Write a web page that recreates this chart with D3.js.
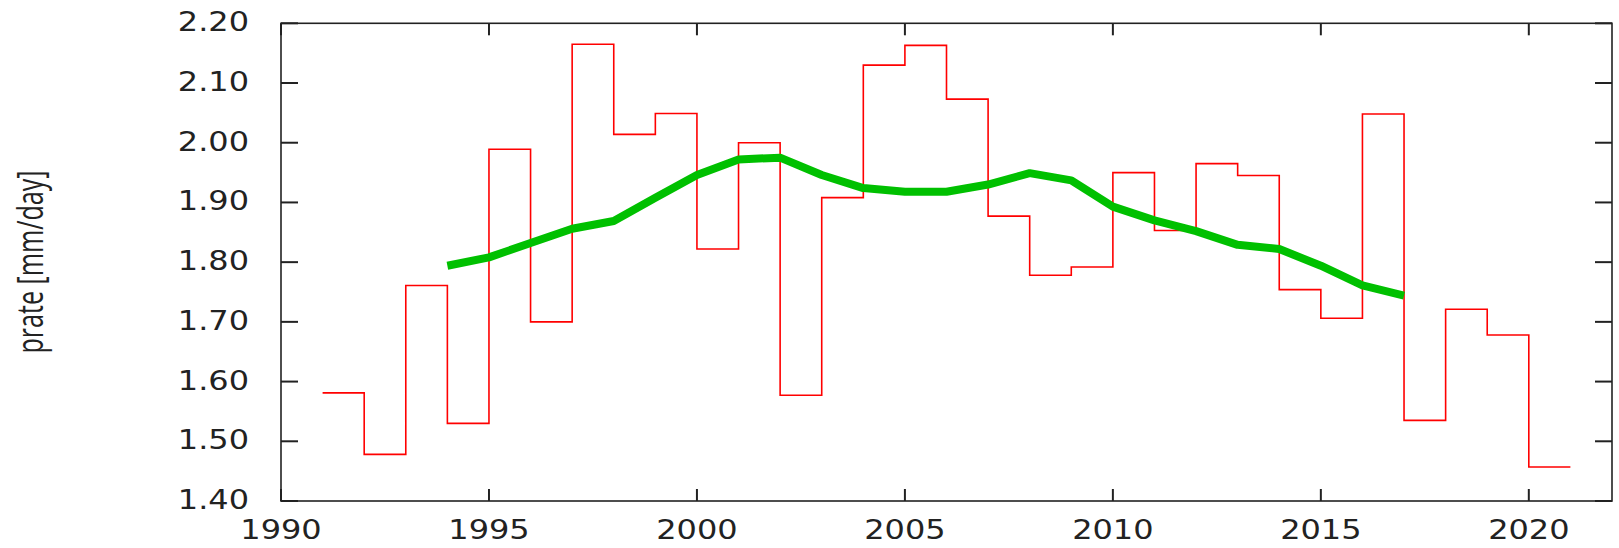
<!DOCTYPE html>
<html>
<head>
<meta charset="utf-8">
<script src="https://cdn.jsdelivr.net/npm/d3@7/dist/d3.min.js"></script>
<style>
  html, body { margin: 0; padding: 0; background: #fff; }
  svg { display: block; }
</style>
</head>
<body>
<svg id="chart" width="1619" height="548"></svg>
<script>
// Annual mean precipitation rate, one value per year (drawn as steps Y..Y+1)
const years = d3.range(1991, 2021);
const annualPrate = [
  1.581, 1.478, 1.761, 1.530, 1.989, 1.700, 2.165, 2.014, 2.049, 1.822,
  2.000, 1.577, 1.908, 2.130, 2.163, 2.073, 1.877, 1.778, 1.792, 1.950,
  1.853, 1.965, 1.945, 1.754, 1.706, 2.048, 1.535, 1.721, 1.678, 1.457
];

// Smoothed series
const smoothYears = d3.range(1994, 2018);
const smoothPrate = [
  1.794, 1.808, 1.832, 1.856, 1.869, 1.908, 1.946, 1.972, 1.975, 1.946,
  1.924, 1.918, 1.918, 1.930, 1.949, 1.937, 1.893, 1.870, 1.852, 1.829,
  1.822, 1.794, 1.761, 1.744
];

const xTicks = [1990, 1995, 2000, 2005, 2010, 2015, 2020];
const yTicks = [1.40, 1.50, 1.60, 1.70, 1.80, 1.90, 2.00, 2.10, 2.20];
const yTitle = "prate [mm/day]";

const svg = d3.select("#chart");
const plotL = 281, plotR = 1612, plotT = 23.3, plotB = 501;
const x = d3.scaleLinear().domain([1990, 2022]).range([plotL, plotR]);
const y = d3.scaleLinear().domain([1.4, 2.2]).range([plotB, plotT]);

const axisColor = "#222";
const textStretch = 1.23;
const fmt = d3.format(".2f");

// Ticks drawn inward on all four sides
const gTicks = svg.append("g").attr("stroke", axisColor).attr("stroke-width", 2);
xTicks.forEach(t => {
  gTicks.append("line").attr("x1", x(t)).attr("x2", x(t)).attr("y1", plotB).attr("y2", plotB - 12);
  gTicks.append("line").attr("x1", x(t)).attr("x2", x(t)).attr("y1", plotT).attr("y2", plotT + 12);
});
yTicks.forEach(t => {
  gTicks.append("line").attr("x1", plotL).attr("x2", plotL + 17).attr("y1", y(t)).attr("y2", y(t));
  gTicks.append("line").attr("x1", plotR).attr("x2", plotR - 17).attr("y1", y(t)).attr("y2", y(t));
});

// Yearly values as a step line
const stepPts = years.map((yr, i) => [yr, annualPrate[i]]);
stepPts.push([years[years.length - 1] + 1, annualPrate[annualPrate.length - 1]]);
svg.append("path")
  .datum(stepPts)
  .attr("fill", "none")
  .attr("stroke", "#ff0000")
  .attr("stroke-width", 1.6)
  .attr("d", d3.line().x(d => x(d[0])).y(d => y(d[1])).curve(d3.curveStepAfter));

// Smoothed curve
svg.append("path")
  .datum(smoothYears.map((yr, i) => [yr, smoothPrate[i]]))
  .attr("fill", "none")
  .attr("stroke", "#00c000")
  .attr("stroke-width", 8)
  .attr("stroke-linejoin", "round")
  .attr("d", d3.line().x(d => x(d[0])).y(d => y(d[1])));

// Frame
svg.append("rect")
  .attr("x", plotL).attr("y", plotT)
  .attr("width", plotR - plotL).attr("height", plotB - plotT)
  .attr("fill", "none").attr("stroke", axisColor).attr("stroke-width", 1.6);

// Tick labels
const font = "'DejaVu Sans', Verdana, sans-serif";
svg.append("g").selectAll("text").data(yTicks).join("text")
  .attr("transform", d => `translate(249,${y(d) + 8}) scale(${textStretch},1)`)
  .attr("text-anchor", "end")
  .attr("font-family", font).attr("font-size", 26).attr("fill", axisColor)
  .text(d => fmt(d));

svg.append("g").selectAll("text").data(xTicks).join("text")
  .attr("transform", d => `translate(${x(d)},539) scale(${textStretch},1)`)
  .attr("text-anchor", "middle")
  .attr("font-family", font).attr("font-size", 26).attr("fill", axisColor)
  .text(d => d);

// Y axis title
svg.append("text")
  .attr("transform", `translate(42.5,262) scale(${textStretch},1) rotate(-90)`)
  .attr("text-anchor", "middle")
  .attr("font-family", "'Open Sans', sans-serif").attr("font-size", 29)
  .attr("textLength", 183).attr("lengthAdjust", "spacingAndGlyphs")
  .attr("fill", axisColor)
  .text(yTitle);
</script>
</body>
</html>
